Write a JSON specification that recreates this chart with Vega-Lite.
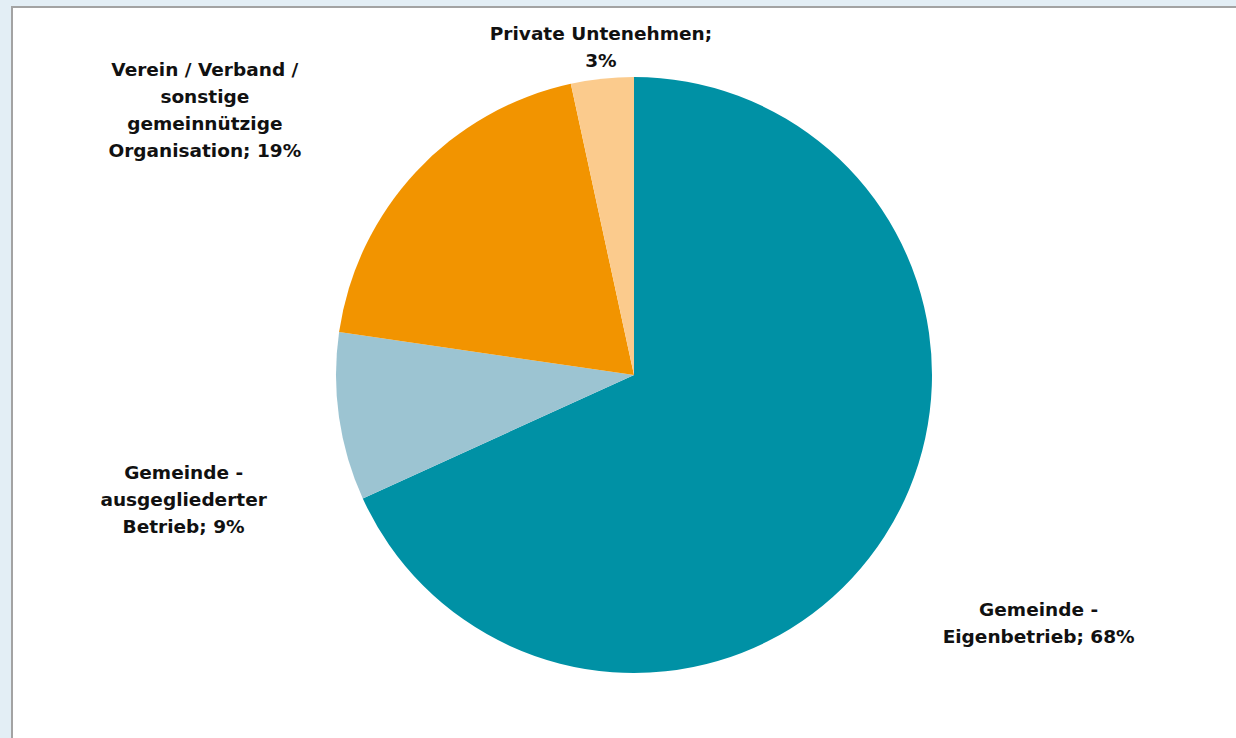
{
  "$schema": "https://vega.github.io/schema/vega-lite/v6.json",
  "width": 1244,
  "height": 736,
  "autosize": {"type": "none"},
  "padding": {"left": 12, "top": 7, "right": -20, "bottom": -5},
  "background": "#E3EEF5",
  "view": {"fill": "white", "stroke": "#A3A3A3", "strokeWidth": 2},
  "config": {
    "text": {"font": "DejaVu Sans", "fontSize": 18.5, "fontWeight": "bold", "lineHeight": 27, "lineBreak": "\n", "align": "center", "baseline": "middle", "fill": "#111111"}
  },
  "data": {
    "values": [
      {"category": "Gemeinde - Eigenbetrieb", "share": 68.2, "order": 1, "label": "Gemeinde -\nEigenbetrieb; 68%"},
      {"category": "Gemeinde - ausgegliederter Betrieb", "share": 9.1, "order": 2, "label": "Gemeinde -\nausgegliederter\nBetrieb; 9%"},
      {"category": "Verein / Verband / sonstige gemeinnützige Organisation", "share": 19.3, "order": 3, "label": "Verein / Verband /\nsonstige\ngemeinnützige\nOrganisation; 19%"},
      {"category": "Private Untenehmen", "share": 3.4, "order": 4, "label": "Private Untenehmen;\n3%"}
    ]
  },
  "encoding": {
    "theta": {"field": "share", "type": "quantitative", "stack": true},
    "order": {"field": "order", "type": "quantitative"}
  },
  "layer": [
    {
      "mark": {"type": "arc", "outerRadius": 298},
      "encoding": {
        "color": {
          "field": "category",
          "type": "nominal",
          "scale": {
            "domain": ["Gemeinde - Eigenbetrieb", "Gemeinde - ausgegliederter Betrieb", "Verein / Verband / sonstige gemeinnützige Organisation", "Private Untenehmen"],
            "range": ["#0091A5", "#9CC4D2", "#F29400", "#FBCB8D"]
          },
          "legend": null
        }
      }
    },
    {
      "mark": {"type": "text", "radius": 474, "dx": 6, "dy": -21.5},
      "encoding": {
        "text": {"condition": {"test": "datum.order === 1", "field": "label", "type": "nominal"}, "value": ""}
      }
    },
    {
      "mark": {"type": "text", "radius": 463, "dx": 8, "dy": 33},
      "encoding": {
        "text": {"condition": {"test": "datum.order === 2", "field": "label", "type": "nominal"}, "value": ""}
      }
    },
    {
      "mark": {"type": "text", "radius": 494, "dx": -68, "dy": 32.5},
      "encoding": {
        "text": {"condition": {"test": "datum.order === 3", "field": "label", "type": "nominal"}, "value": ""}
      }
    },
    {
      "mark": {"type": "text", "radius": 329, "dx": 2, "dy": -13.5},
      "encoding": {
        "text": {"condition": {"test": "datum.order === 4", "field": "label", "type": "nominal"}, "value": ""}
      }
    }
  ]
}
